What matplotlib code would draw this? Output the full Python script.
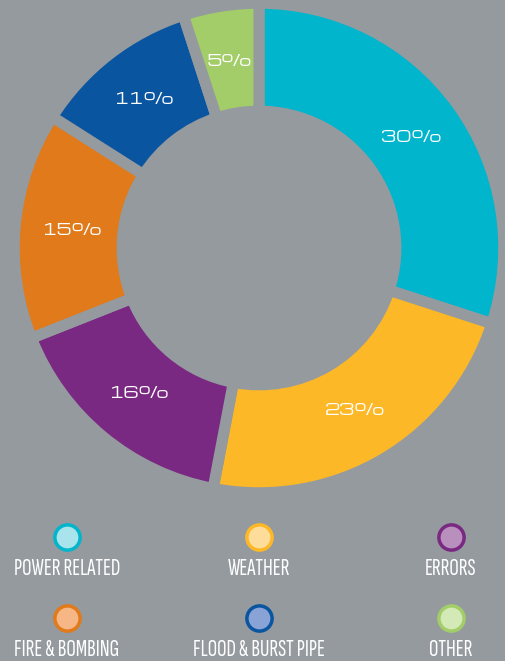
import matplotlib
matplotlib.use('Agg')
import matplotlib.pyplot as plt

# data
categories = ['POWER RELATED', 'WEATHER', 'ERRORS', 'FIRE & BOMBING', 'FLOOD & BURST PIPE', 'OTHER']
values = [30, 23, 16, 15, 11, 5]
colors = ['#00b5cc', '#fdb827', '#7a2982', '#e07a1a', '#0a55a0', '#a2cd69']
light = ['#a9e3ec', '#fedc9a', '#b98fbd', '#f6b685', '#8aa3d6', '#d3e9b6']

bg = '#959a9f'
W, H = 505, 661
fig = plt.figure(figsize=(W / 100, H / 100), dpi=100, facecolor=bg)

# donut
cx, cy, r = 259, 248, 240
ax = fig.add_axes([(cx - r) / W, (H - cy - r) / H, 2 * r / W, 2 * r / H])
ax.set_facecolor(bg)
wedges, texts, autotexts = ax.pie(
    values, colors=colors, startangle=90, counterclock=False, radius=1.02,
    autopct=lambda p: '%d%%' % round(p), pctdistance=0.77,
    wedgeprops=dict(width=0.45, edgecolor=bg, linewidth=8),
    textprops=dict(color='white', fontsize=11.5, family=['Michroma', 'Orbitron', 'DejaVu Sans']))
ax.set_xlim(-1, 1)
ax.set_ylim(-1, 1)
ax.set_aspect('equal')
ax.axis('off')

# legend
lg = fig.add_axes([0, 0, 1, 150 / H])
lg.set_xlim(0, W)
lg.set_ylim(150, 0)
lg.axis('off')
xs = [67, 259, 451]
rows = [(537 - 511, 569 - 511), (618 - 511, 650 - 511)]
for i, name in enumerate(categories):
    x = xs[i % 3]
    my, ty = rows[i // 3]
    lg.scatter([x], [my], s=330, color=light[i], edgecolor=colors[i], linewidth=2.5, zorder=3)
    lg.text(x, ty, name, ha='center', va='center', color='white', fontsize=17,
            family=['Sofia Sans Extra Condensed', 'Roboto Condensed', 'DejaVu Sans'],
            fontweight='bold')

fig.savefig('out.png', dpi=100, facecolor=bg)
